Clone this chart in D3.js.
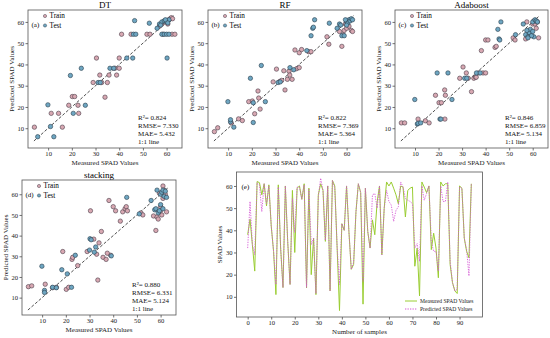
<!DOCTYPE html>
<html>
<head>
<meta charset="utf-8">
<script src="https://cdn.jsdelivr.net/npm/d3@7"></script>
<style>
  body { margin: 0; background: #fff; }
  svg { font-family: "Liberation Serif", "Times New Roman", serif; }
  .axis path { display: none; }
  .axis line { stroke: #333; stroke-width: 0.7; }
  .axis text { font-size: 6.6px; fill: #222; font-family: "Liberation Serif", serif; }
</style>
</head>
<body>
<svg width="550" height="338"></svg>
<script>
// ---- scatter data: [measured, predicted] ----
var dtTrain = [[4.2,10.5],[11.3,17],[14.4,17],[16,10.5],[18.7,20.8],[20.2,24.9],[21.2,24.9],[22.6,20.8],[22.9,17],[29,31.5],[30.4,43],[31.8,35],[32.6,31.5],[34,24.6],[35,31.5],[35.7,35],[38.2,38.2],[38.9,35],[40,38.2],[40,43],[41,54.2],[45,54.2],[51.7,54.2],[53,54.2],[57,58],[58,59],[59,60],[60,60.5],[61,61],[61.5,61.5],[62,62],[62.3,54.2],[63.5,54.2],[60.5,59],[62.5,61.5],[58.5,54.2]];
var dtTest = [[5.6,6],[9.9,21],[11,10.8],[12.4,6],[19.4,34.8],[20.6,17],[24,38.2],[25.7,20.8],[31.1,31.5],[32,31.5],[36.1,38.2],[37.7,38.2],[43.2,43],[45.7,43],[46.5,60.6],[46,54.2],[47,54.2],[52.7,59.4],[57,59],[58,60],[59,60.5],[60,60],[61,61],[58,54.2],[59,54.2],[60,54.2],[61,54.2],[60.2,43],[56,57],[57.5,58.5],[59.5,61],[60.5,59.5]];

var rfTrain = [[4.2,8.4],[5.6,10.2],[11.3,12.5],[14.4,14.4],[16,13.6],[18.7,22.5],[20.2,22.8],[21.2,16.8],[22.6,27.5],[22.9,24.2],[23.5,19],[29,31.8],[30.4,37.8],[31.8,32],[32.6,32.5],[34,28],[35,33],[35.7,36.8],[38.2,46.8],[38.9,38],[40,38.5],[40,45.5],[41,47],[44,46],[45,46],[51.7,53],[52.5,49.5],[57,55.5],[58,48.5],[58.5,54],[59,56],[60,57],[61,58],[62,56],[62.5,55.5],[60.5,60],[61.5,61],[59.5,59],[36,35],[37,33],[33.5,37]];
var rfTest = [[9.9,22.5],[11,13],[11,14],[12.4,10.5],[19.4,33.5],[20.6,12.7],[20.6,22],[24,39.5],[25.7,22.5],[31.1,31.5],[32,31.8],[36.1,38.5],[37.7,37.5],[43.2,46.5],[45.7,57],[45,53.5],[46.5,61],[46,57.5],[52.7,59.4],[57,59],[58,53.5],[59,53.5],[60,60],[61,61],[60.5,59.5],[59.5,61],[57.5,58.5],[56,57],[61.5,60.5],[62,61.5],[60,58.5],[62.5,61]];

var adaTrain = [[4.2,12.5],[5.6,12.5],[11.3,14.3],[14.4,13.5],[16,12.5],[18.7,25.5],[20.2,22],[21.2,22],[22.6,28],[22.9,25.5],[22.7,14.3],[29,33.5],[30.4,38.8],[31.8,36],[32.6,33.5],[34,27.2],[35,33.5],[35.7,34],[38.2,46.5],[38.9,36],[40,36],[40,51.5],[41,51.5],[44,48],[44.5,48.5],[51.7,52.5],[52.5,51.5],[57,52],[57.5,60],[58.5,54],[59,55],[60,59],[61,59],[62,60],[62.5,52.5],[61.5,57],[60.5,60.5],[37,36],[36,34]];
var adaTest = [[9.9,23.5],[11,12],[11.3,12.3],[12.4,12.5],[19.4,36],[20.6,14.3],[21,14.3],[24,36],[25.7,23.5],[31.1,33.5],[32,33.5],[36.1,36],[37.7,36],[45.2,56.5],[45.7,52],[46.5,60],[46,51.5],[52.7,54],[57,54],[58,53],[58.5,55],[59,56.5],[60,60],[61,61],[60.5,53],[59.5,53.5],[57.5,56],[56,59],[61.5,60.5],[62,60],[60,55.5],[58,52.5]];

var stTrain = [[4.2,15.3],[5.6,15.7],[11.3,16.5],[14.4,14.8],[16,15],[18.7,32.3],[20.2,14],[21.2,15],[22.6,28.5],[22.9,29.5],[25,25.5],[29,32.3],[30.4,52],[31.8,38.3],[33,31],[33.5,18.5],[34,36.5],[35,42],[35.7,29.5],[37,28.5],[38.2,57],[38.9,30.5],[40,54],[41,52],[43,47],[44,51.5],[45,53],[45.5,54],[46,52],[51.7,51],[52.5,50],[57,49.5],[58,42.5],[58.5,49],[59,48],[60,54],[60.5,50],[61,58],[61.5,62],[62,60],[62.5,51.5],[60,52],[61,64],[59.5,60.5],[37.5,31.5]];
var stTest = [[9.9,25.2],[11,13.5],[11,12.5],[14.4,15],[16,14.8],[18.3,23.5],[20.6,21.5],[22.4,15],[24,30.5],[30.2,38.5],[30.7,38],[30,33],[32,32],[32.6,34.5],[39.2,30.2],[45.7,58.5],[51,50.5],[56,57],[57.5,52.5],[58,53],[59,51],[59.5,52],[60,60],[60.5,61],[61,62],[61.5,59],[62,61.5],[62.5,58.5],[60,55],[58.5,62],[61,53]];

var scatterTicks = [10, 20, 30, 40, 50, 60];
var oneToOne = [4, 63];

// ---- sample series for panel (e) ----
var measured = [38,45,33.5,21.6,62,61.5,56,61,51,60.5,42,30.5,11,60.5,32,14.2,60,35,15.6,58,30,59,60,54,61,14,59,20,36.5,11,56,61,58,35,60,12.7,62.5,60,32,3.8,43,40,60,39.5,22.4,24.6,48.4,61,57,6.7,59,39.5,32,44.7,38,52.8,60,29,50,61.8,60,61.8,59,56,52,60,59.5,46,58,59,59.5,23.8,32,10.4,61.8,59.5,57,60,31.3,38.7,32,18.6,61.8,60,61,61,24.6,16.4,12.7,11.5,60,59,36.5,30.5,27.6,61];
var predicted = [32,53,33.5,29,61.5,60.5,48.4,61,52,60,42,30.5,15.6,59.5,32,14.2,60,35,15.6,54.3,39,59.5,59.5,54,60.5,14.2,58.5,33.5,36.5,11.5,55,63.5,58,35.5,60,12.7,62.5,59,32.5,15.6,43,40,60,39.5,22.4,25.5,48.4,61,57,17,59,39.5,32,56,56.6,50,60,29,50,58,53,51.4,44,49,50.6,61.8,59.5,54.3,53.6,53,52,32,34,26,60,53.6,56.6,60,35,30.5,30.5,21.6,60,53,53,61.8,26,16.4,12.7,13.4,59.5,59,36.5,31.3,19.4,61];
var sampleTicks = [0, 10, 20, 30, 40, 50, 60, 70, 80, 90];

var panels = [
  {title: "DT", tag: "(a)", train: dtTrain, test: dtTest, stats: ["R\u00b2= 0.824", "RMSE= 7.330", "MAE= 5.432"],
   left: 28, right: 182, top: 10, bottom: 148, ydom: [0.7, 65.6]},
  {title: "RF", tag: "(b)", train: rfTrain, test: rfTest, stats: ["R\u00b2= 0.822", "RMSE= 7.369", "MAE= 5.364"],
   left: 208, right: 362, top: 10, bottom: 148, ydom: [0.7, 65.6]},
  {title: "Adaboost", tag: "(c)", train: adaTrain, test: adaTest, stats: ["R\u00b2= 0.846", "RMSE= 6.859", "MAE= 5.134"],
   left: 395, right: 548, top: 10, bottom: 148, ydom: [0.7, 65.6]},
  {title: "stacking", tag: "(d)", train: stTrain, test: stTest, stats: ["R\u00b2= 0.880", "RMSE= 6.331", "MAE= 5.124"],
   left: 22, right: 176, top: 180, bottom: 315, ydom: [1.6, 66.9]}
];

var svg = d3.select("svg");
var trainFill = "#d8a8b2", testFill = "#6ea6c2";

panels.forEach(function(p) {
  var x = d3.scaleLinear().domain([1.5, 66.5]).range([p.left, p.right]),
      y = d3.scaleLinear().domain(p.ydom).range([p.bottom, p.top]);
  var g = svg.append("g");

  g.append("g").attr("class", "axis")
    .attr("transform", "translate(0," + p.bottom + ")")
    .call(d3.axisBottom(x).tickValues(scatterTicks).tickSize(2.5).tickPadding(1));
  g.append("g").attr("class", "axis")
    .attr("transform", "translate(" + p.left + ",0)")
    .call(d3.axisLeft(y).tickValues(scatterTicks).tickSize(2.5).tickPadding(1.5));

  g.append("line")
    .attr("x1", x(oneToOne[0])).attr("y1", y(oneToOne[0]))
    .attr("x2", x(oneToOne[1])).attr("y2", y(oneToOne[1]))
    .attr("stroke", "#222").attr("stroke-width", 0.8)
    .attr("stroke-dasharray", "3,1.8");

  g.selectAll(".tr").data(p.train).enter().append("circle")
    .attr("cx", function(d) { return x(d[0]); })
    .attr("cy", function(d) { return y(d[1]); })
    .attr("r", 2.2)
    .attr("fill", trainFill).attr("stroke", "#4a3c48").attr("stroke-width", 0.6);
  g.selectAll(".te").data(p.test).enter().append("circle")
    .attr("cx", function(d) { return x(d[0]); })
    .attr("cy", function(d) { return y(d[1]); })
    .attr("r", 2.2)
    .attr("fill", testFill).attr("stroke", "#2a3e4c").attr("stroke-width", 0.6);

  g.append("rect")
    .attr("x", p.left).attr("y", p.top)
    .attr("width", p.right - p.left).attr("height", p.bottom - p.top)
    .attr("fill", "none").attr("stroke", "#555").attr("stroke-width", 0.8);

  // title and axis labels
  g.append("text").attr("x", (p.left + p.right) / 2).attr("y", p.top - 2)
    .attr("text-anchor", "middle").style("font-size", "9px").text(p.title);
  g.append("text").attr("x", (p.left + p.right) / 2).attr("y", p.bottom + 17)
    .attr("text-anchor", "middle").style("font-size", "7px").attr("fill", "#222")
    .text("Measured SPAD Values");
  g.append("text")
    .attr("transform", "translate(" + (p.left - 14) + "," + ((p.top + p.bottom) / 2) + ")rotate(-90)")
    .attr("text-anchor", "middle").style("font-size", "7px").attr("fill", "#222")
    .text("Predicted SPAD Values");

  // legend
  g.append("text").attr("x", p.left + 3.5).attr("y", p.top + 17)
    .style("font-size", "7px").text(p.tag);
  [["Train", trainFill, "#4a3c48"], ["Test", testFill, "#2a3e4c"]].forEach(function(l, i) {
    var ly = p.top + 6 + i * 9.5;
    g.append("circle").attr("cx", p.left + 17).attr("cy", ly).attr("r", 1.6)
      .attr("fill", l[1]).attr("stroke", l[2]).attr("stroke-width", 0.5);
    g.append("text").attr("x", p.left + 21.5).attr("y", ly + 2.4)
      .style("font-size", "7.2px").text(l[0]);
  });

  // stats
  p.stats.concat(["1:1 line"]).forEach(function(s, i) {
    g.append("text").attr("x", p.left + 110).attr("y", p.bottom - 28.5 + i * 8.2)
      .style("font-size", "7px").attr("fill", "#111").text(s);
  });
});

// ---- panel (e) ----
var eL = 236.5, eR = 482.5, eT = 172, eB = 317;
var xe = d3.scaleLinear().domain([-4.75, 99.75]).range([eL, eR]),
    ye = d3.scaleLinear().domain([0.9, 66.3]).range([eB, eT]);
var ge = svg.append("g");

ge.append("g").attr("class", "axis")
  .attr("transform", "translate(0," + eB + ")")
  .call(d3.axisBottom(xe).tickValues(sampleTicks).tickSize(2.5).tickPadding(1));
ge.append("g").attr("class", "axis")
  .attr("transform", "translate(" + eL + ",0)")
  .call(d3.axisLeft(ye).tickValues(scatterTicks).tickSize(2.5).tickPadding(1.5));

var lineE = d3.line()
  .x(function(d, i) { return xe(i); })
  .y(function(d) { return ye(d); });

ge.append("path").datum(measured)
  .attr("d", lineE).attr("fill", "none")
  .attr("stroke", "#9acd32").attr("stroke-width", 1);
ge.append("path").datum(predicted)
  .attr("d", lineE).attr("fill", "none")
  .attr("stroke", "#d455d4").attr("stroke-width", 1).attr("stroke-opacity", 0.85)
  .attr("stroke-dasharray", "1.3,1.2");

ge.append("rect")
  .attr("x", eL).attr("y", eT).attr("width", eR - eL).attr("height", eB - eT)
  .attr("fill", "none").attr("stroke", "#555").attr("stroke-width", 0.8);

ge.append("text").attr("x", eL + 5).attr("y", eT + 17)
  .style("font-size", "7px").text("(e)");
ge.append("text").attr("x", (eL + eR) / 2).attr("y", eB + 17.3)
  .attr("text-anchor", "middle").style("font-size", "7px").attr("fill", "#222")
  .text("Number of samples");
ge.append("text")
  .attr("transform", "translate(" + (eL - 15) + "," + ((eT + eB) / 2) + ")rotate(-90)")
  .attr("text-anchor", "middle").style("font-size", "7px").attr("fill", "#222")
  .text("SPAD Values");

[["Measured SPAD Values", "#9acd32", null], ["Predicted SPAD Values", "#d455d4", "1.3,1.2"]].forEach(function(l, i) {
  var ly = 301 + i * 8;
  ge.append("line").attr("x1", 405).attr("x2", 417).attr("y1", ly).attr("y2", ly)
    .attr("stroke", l[1]).attr("stroke-width", 1)
    .attr("stroke-dasharray", l[2]);
  ge.append("text").attr("x", 420).attr("y", ly + 2)
    .style("font-size", "5.6px").attr("fill", "#222").text(l[0]);
});
</script>
</body>
</html>
